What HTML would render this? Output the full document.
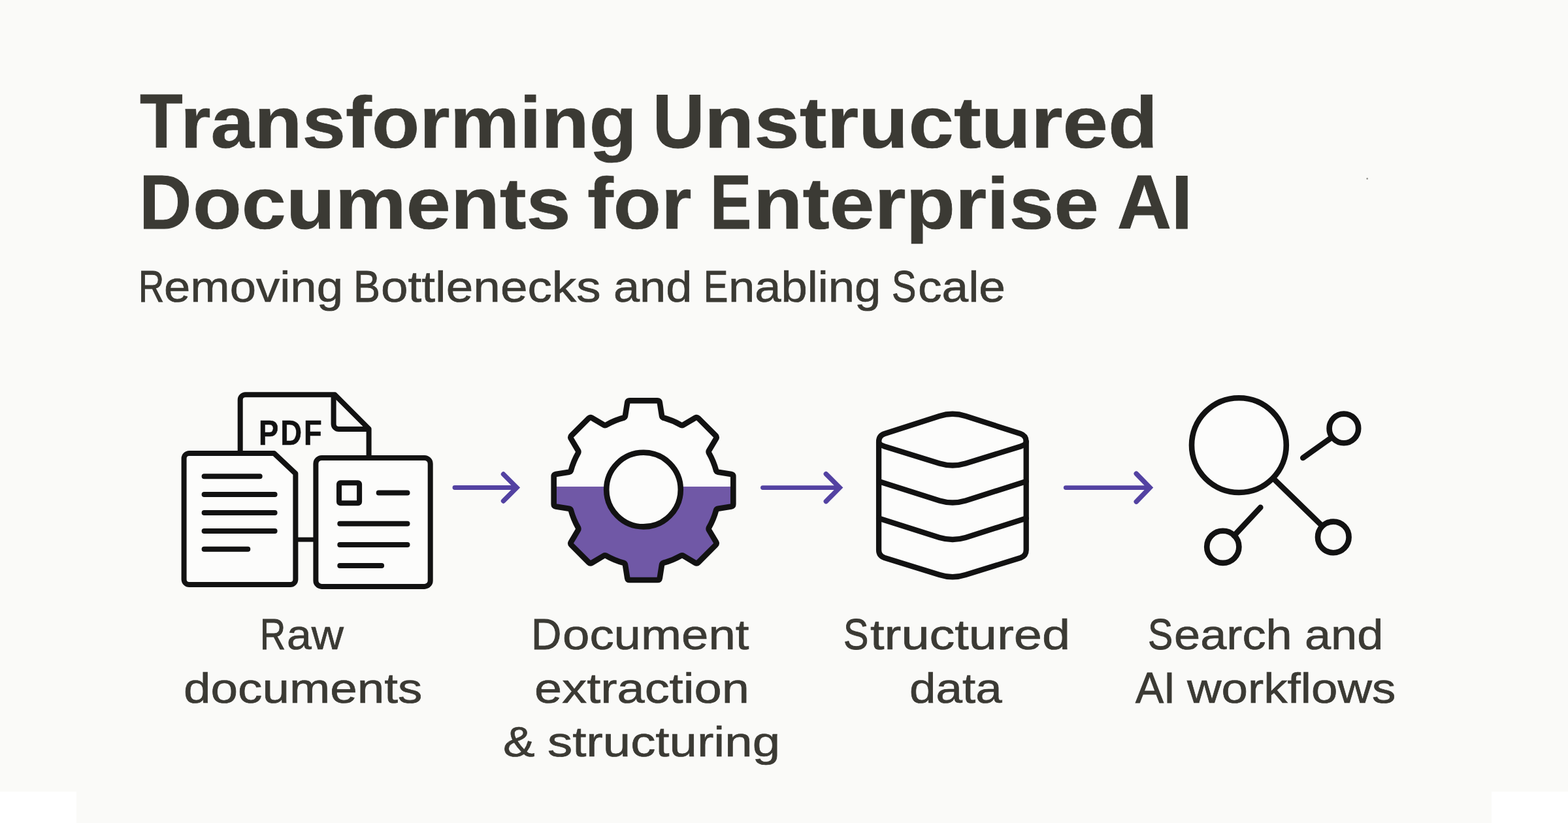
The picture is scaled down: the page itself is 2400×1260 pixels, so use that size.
<!DOCTYPE html>
<html lang="en">
<head>
<meta charset="utf-8">
<title>Transforming Unstructured Documents for Enterprise AI</title>
<style>
html,body{margin:0;padding:0;}
body{width:2400px;height:1260px;overflow:hidden;background:#fafaf8;position:relative;
  font-family:"Liberation Sans",Arial,Helvetica,sans-serif;color:#3b3a34;}
.art{position:absolute;left:0;top:0;display:block;}
.corner{position:absolute;bottom:0;width:117px;height:48px;background:#fff;}
.corner.l{left:0;} .corner.r{right:0;}
h1,p,.pdf{margin:0;padding:0;font-weight:400;font-size:0;line-height:0;}
.w{position:absolute;display:block;white-space:nowrap;line-height:1;transform-origin:0 0;}
.t{font-weight:700;font-size:111.5px;-webkit-text-stroke:0.7px #3b3a34;}
.t.caps{font-size:116.5px;-webkit-text-stroke-width:1px;}
.s{font-size:66.5px;-webkit-text-stroke:0.7px #3b3a34;}
.s.caps{font-size:68.5px;-webkit-text-stroke-width:1px;}
.l{font-size:65.5px;-webkit-text-stroke:0.7px #3b3a34;}
.l.caps{font-size:67.5px;-webkit-text-stroke-width:1px;}
.p{font-weight:700;font-size:53.5px;color:#121212;-webkit-text-stroke:0.6px #121212;letter-spacing:3.5px;}
</style>
</head>
<body>
<div class="corner l"></div><div class="corner r"></div>
<svg class="art" width="2400" height="1260" viewBox="0 0 2400 1260" aria-hidden="true">
<defs><clipPath id="half"><rect x="800" y="745" width="400" height="200"/></clipPath></defs>
<circle cx="2092.7" cy="273.5" r="1.3" fill="#8a8a86"/>
<g fill="none" stroke="#121212" stroke-width="8" stroke-linecap="round" stroke-linejoin="round">
  <path d="M367.7 692V612.3a8 8 0 0 1 8-8H512.5L564.6 656.5V698"/>
  <path d="M510.6 606V649a8 8 0 0 0 8 8H562"/>
  <path fill="#fcfcfb" d="M289.6 694H419.5L452.4 725V886.9a8 8 0 0 1-8 8H289.6a8 8 0 0 1-8-8V702a8 8 0 0 1 8-8Z"/>
  <path d="M312.6 729.2H397.7M312.6 757H420.6M312.6 785.1H420.6M312.6 813.1H420.6M312.6 840.7H379.3"/>
  <path stroke-width="7" stroke-linecap="butt" d="M456 826.1H480"/>
  <rect fill="#fcfcfb" x="483.4" y="700.9" width="175.3" height="197" rx="9"/>
  <rect x="519" y="739.2" width="31.1" height="31.1" rx="2"/>
  <path d="M579.7 754.6H623.5M520.3 801.8H623.5M520.3 833.9H623.5M520.3 866H584.1"/>
</g>
<g fill="none" stroke="#5342a2" stroke-width="7.4" stroke-linecap="round" stroke-linejoin="round">
  <path stroke-width="6.9" d="M696 746.5H789.5"/><path stroke-linejoin="miter" d="M770.5 726.0L790.9 746.5L770.5 767.0"/>
  <path stroke-width="6.9" d="M1167.5 746.6H1283.8"/><path stroke-linejoin="miter" d="M1264.3 725.6L1285.2 746.6L1264.3 767.6"/>
  <path stroke-width="6.9" d="M1631.3 746.6H1758.7"/><path stroke-linejoin="miter" d="M1739.2 725.1L1760.1 746.6L1739.2 768.1"/>
</g>
<path d="M954.9 639.5Q956.7 638.7 957.0 636.7L960.2 616.4Q960.7 613.4 963.7 613.4L1006.3 613.4Q1009.3 613.4 1009.8 616.4L1013.0 636.7Q1013.3 638.7 1015.1 639.5A115.5 115.5 0 0 1 1042.3 650.7Q1044.2 651.5 1045.9 650.5L1064.1 639.7Q1066.7 638.2 1068.8 640.3L1095.4 666.9Q1097.5 669.0 1096.0 671.6L1085.2 689.8Q1084.2 691.5 1085.0 693.4A115.5 115.5 0 0 1 1096.2 720.6Q1097.0 722.4 1099.0 722.7L1119.3 725.9Q1122.3 726.4 1122.3 729.4L1122.3 772.0Q1122.3 775.0 1119.3 775.5L1099.0 778.7Q1097.0 779.0 1096.2 780.8A115.5 115.5 0 0 1 1085.0 808.0Q1084.2 809.9 1085.2 811.6L1096.0 829.8Q1097.5 832.4 1095.4 834.5L1068.8 861.1Q1066.7 863.2 1064.1 861.7L1045.9 850.9Q1044.2 849.9 1042.3 850.7A115.5 115.5 0 0 1 1015.1 861.9Q1013.3 862.7 1013.0 864.7L1009.8 885.0Q1009.3 888.0 1006.3 888.0L963.7 888.0Q960.7 888.0 960.2 885.0L957.0 864.7Q956.7 862.7 954.9 861.9A115.5 115.5 0 0 1 927.7 850.7Q925.8 849.9 924.1 850.9L905.9 861.7Q903.3 863.2 901.2 861.1L874.6 834.5Q872.5 832.4 874.0 829.8L884.8 811.6Q885.8 809.9 885.0 808.0A115.5 115.5 0 0 1 873.8 780.8Q873.0 779.0 871.0 778.7L850.7 775.5Q847.7 775.0 847.7 772.0L847.7 729.4Q847.7 726.4 850.7 725.9L871.0 722.7Q873.0 722.4 873.8 720.6A115.5 115.5 0 0 1 885.0 693.4Q885.8 691.5 884.8 689.8L874.0 671.6Q872.5 669.0 874.6 666.9L901.2 640.3Q903.3 638.2 905.9 639.7L924.1 650.5Q925.8 651.5 927.7 650.7A115.5 115.5 0 0 1 954.9 639.5Z" fill="#fcfcfb"/>
<path d="M954.9 639.5Q956.7 638.7 957.0 636.7L960.2 616.4Q960.7 613.4 963.7 613.4L1006.3 613.4Q1009.3 613.4 1009.8 616.4L1013.0 636.7Q1013.3 638.7 1015.1 639.5A115.5 115.5 0 0 1 1042.3 650.7Q1044.2 651.5 1045.9 650.5L1064.1 639.7Q1066.7 638.2 1068.8 640.3L1095.4 666.9Q1097.5 669.0 1096.0 671.6L1085.2 689.8Q1084.2 691.5 1085.0 693.4A115.5 115.5 0 0 1 1096.2 720.6Q1097.0 722.4 1099.0 722.7L1119.3 725.9Q1122.3 726.4 1122.3 729.4L1122.3 772.0Q1122.3 775.0 1119.3 775.5L1099.0 778.7Q1097.0 779.0 1096.2 780.8A115.5 115.5 0 0 1 1085.0 808.0Q1084.2 809.9 1085.2 811.6L1096.0 829.8Q1097.5 832.4 1095.4 834.5L1068.8 861.1Q1066.7 863.2 1064.1 861.7L1045.9 850.9Q1044.2 849.9 1042.3 850.7A115.5 115.5 0 0 1 1015.1 861.9Q1013.3 862.7 1013.0 864.7L1009.8 885.0Q1009.3 888.0 1006.3 888.0L963.7 888.0Q960.7 888.0 960.2 885.0L957.0 864.7Q956.7 862.7 954.9 861.9A115.5 115.5 0 0 1 927.7 850.7Q925.8 849.9 924.1 850.9L905.9 861.7Q903.3 863.2 901.2 861.1L874.6 834.5Q872.5 832.4 874.0 829.8L884.8 811.6Q885.8 809.9 885.0 808.0A115.5 115.5 0 0 1 873.8 780.8Q873.0 779.0 871.0 778.7L850.7 775.5Q847.7 775.0 847.7 772.0L847.7 729.4Q847.7 726.4 850.7 725.9L871.0 722.7Q873.0 722.4 873.8 720.6A115.5 115.5 0 0 1 885.0 693.4Q885.8 691.5 884.8 689.8L874.0 671.6Q872.5 669.0 874.6 666.9L901.2 640.3Q903.3 638.2 905.9 639.7L924.1 650.5Q925.8 651.5 927.7 650.7A115.5 115.5 0 0 1 954.9 639.5Z" fill="#7058a6" clip-path="url(#half)"/>
<path d="M954.9 639.5Q956.7 638.7 957.0 636.7L960.2 616.4Q960.7 613.4 963.7 613.4L1006.3 613.4Q1009.3 613.4 1009.8 616.4L1013.0 636.7Q1013.3 638.7 1015.1 639.5A115.5 115.5 0 0 1 1042.3 650.7Q1044.2 651.5 1045.9 650.5L1064.1 639.7Q1066.7 638.2 1068.8 640.3L1095.4 666.9Q1097.5 669.0 1096.0 671.6L1085.2 689.8Q1084.2 691.5 1085.0 693.4A115.5 115.5 0 0 1 1096.2 720.6Q1097.0 722.4 1099.0 722.7L1119.3 725.9Q1122.3 726.4 1122.3 729.4L1122.3 772.0Q1122.3 775.0 1119.3 775.5L1099.0 778.7Q1097.0 779.0 1096.2 780.8A115.5 115.5 0 0 1 1085.0 808.0Q1084.2 809.9 1085.2 811.6L1096.0 829.8Q1097.5 832.4 1095.4 834.5L1068.8 861.1Q1066.7 863.2 1064.1 861.7L1045.9 850.9Q1044.2 849.9 1042.3 850.7A115.5 115.5 0 0 1 1015.1 861.9Q1013.3 862.7 1013.0 864.7L1009.8 885.0Q1009.3 888.0 1006.3 888.0L963.7 888.0Q960.7 888.0 960.2 885.0L957.0 864.7Q956.7 862.7 954.9 861.9A115.5 115.5 0 0 1 927.7 850.7Q925.8 849.9 924.1 850.9L905.9 861.7Q903.3 863.2 901.2 861.1L874.6 834.5Q872.5 832.4 874.0 829.8L884.8 811.6Q885.8 809.9 885.0 808.0A115.5 115.5 0 0 1 873.8 780.8Q873.0 779.0 871.0 778.7L850.7 775.5Q847.7 775.0 847.7 772.0L847.7 729.4Q847.7 726.4 850.7 725.9L871.0 722.7Q873.0 722.4 873.8 720.6A115.5 115.5 0 0 1 885.0 693.4Q885.8 691.5 884.8 689.8L874.0 671.6Q872.5 669.0 874.6 666.9L901.2 640.3Q903.3 638.2 905.9 639.7L924.1 650.5Q925.8 651.5 927.7 650.7A115.5 115.5 0 0 1 954.9 639.5Z" fill="none" stroke="#121212" stroke-width="8.6" stroke-linejoin="round"/>
<circle cx="985" cy="749.6" r="56.8" fill="#fcfcfb" stroke="#121212" stroke-width="8.6"/>
<g fill="none" stroke="#121212" stroke-width="8.3" stroke-linecap="round" stroke-linejoin="round">
  <path fill="#fcfcfb" d="M1345.1 676Q1345.1 667 1354 664L1438 637Q1458 630.5 1478 637L1562 664Q1570.7 667 1570.7 676V842Q1570.7 851 1562 854L1478 880Q1458 886.5 1438 880L1354 854Q1345.1 851 1345.1 842Z"/>
  <path d="M1345.1 676Q1345.1 680.5 1354 683.5L1438 709.5Q1458 715.5 1478 709.5L1562 683.5Q1570.7 680.5 1570.7 676"/>
  <path d="M1345.1 737L1438 766.5Q1458 772.5 1478 766.5L1570.7 737"/>
  <path d="M1345.1 793.5L1438 823Q1458 829 1478 823L1570.7 793.5"/>
</g>
<g fill="none" stroke="#121212" stroke-width="8.6" stroke-linecap="round">
  <circle cx="1896.4" cy="681.6" r="72.4" fill="#fcfcfb"/>
  <circle cx="2056.9" cy="655.9" r="22.3"/>
  <circle cx="2040.8" cy="822.4" r="23.8"/>
  <circle cx="1871.8" cy="837.3" r="24.6"/>
  <path d="M1950 733.5L2023.5 805"/>
  <path d="M1994.3 701L2038 670"/>
  <path d="M1929.3 776.9L1889 820"/>
</g>
</svg>
<h1 class="title"><span class="w t caps" style="left:213.72px;top:128px;transform:scaleX(0.9241)">T</span><span class="w t" style="left:276.15px;top:132px;transform:scaleX(1.0743)">ransforming</span> <span class="w t caps" style="left:999.36px;top:128px;transform:scaleX(0.9436)">U</span><span class="w t" style="left:1077.83px;top:132px;transform:scaleX(1.1208)">nstructured</span>
<span class="w t caps" style="left:212.57px;top:252px;transform:scaleX(0.9551)">D</span><span class="w t" style="left:294.96px;top:256px;transform:scaleX(1.0988)">ocuments</span> <span class="w t" style="left:899.38px;top:256px;transform:scaleX(1.0737)">for</span> <span class="w t caps" style="left:1087.11px;top:252px;transform:scaleX(0.8127)">E</span><span class="w t" style="left:1153.41px;top:256px;transform:scaleX(1.1087)">nterprise</span> <span class="w t caps" style="left:1710.15px;top:252px;transform:scaleX(0.9865)">AI</span></h1>
<p class="sub"><span class="w s caps" style="left:211.95px;top:405px;transform:scaleX(0.7948)">R</span><span class="w s" style="left:251.35px;top:406px;transform:scaleX(1.0900)">emoving</span> <span class="w s caps" style="left:541.04px;top:405px;transform:scaleX(0.8963)">B</span><span class="w s" style="left:582.92px;top:406px;transform:scaleX(1.1242)">ottlenecks</span> <span class="w s" style="left:938.56px;top:406px;transform:scaleX(1.0835)">and</span> <span class="w s caps" style="left:1076.53px;top:405px;transform:scaleX(0.8184)">E</span><span class="w s" style="left:1115.21px;top:406px;transform:scaleX(1.0880)">nabling</span> <span class="w s caps" style="left:1365.47px;top:405px;transform:scaleX(0.8169)">S</span><span class="w s" style="left:1404.64px;top:406px;transform:scaleX(1.0982)">cale</span></p>
<div class="pdf"><span class="w p" style="left:395.76px;top:636px;transform:scaleX(0.8485)">PDF</span></div>
<section class="labels">
<p class="lbl"><span class="w l caps" style="left:398.48px;top:937px;transform:scaleX(0.8038)">R</span><span class="w l" style="left:438.77px;top:939px;transform:scaleX(1.0397)">aw</span> <span class="w l" style="left:280.60px;top:1021px;transform:scaleX(1.1402)">documents</span></p>
<p class="lbl"><span class="w l caps" style="left:813.24px;top:937px;transform:scaleX(0.9512)">D</span><span class="w l" style="left:861.10px;top:939px;transform:scaleX(1.1363)">ocument</span> <span class="w l" style="left:817.76px;top:1021px;transform:scaleX(1.1583)">extraction</span> <span class="w l" style="left:770.14px;top:1103px;transform:scaleX(1.1162)">&amp;</span> <span class="w l" style="left:838.49px;top:1103px;transform:scaleX(1.1646)">structuring</span></p>
<p class="lbl"><span class="w l caps" style="left:1291.36px;top:937px;transform:scaleX(0.8537)">S</span><span class="w l" style="left:1332.26px;top:939px;transform:scaleX(1.1842)">tructured</span> <span class="w l" style="left:1392.42px;top:1021px;transform:scaleX(1.1115)">data</span></p>
<p class="lbl"><span class="w l caps" style="left:1757.13px;top:937px;transform:scaleX(0.8474)">S</span><span class="w l" style="left:1797.39px;top:939px;transform:scaleX(1.1027)">earch</span> <span class="w l" style="left:1996.62px;top:939px;transform:scaleX(1.1013)">and</span> <span class="w l caps" style="left:1738.25px;top:1019px;transform:scaleX(0.9566)">AI</span> <span class="w l" style="left:1817.34px;top:1021px;transform:scaleX(1.1108)">workflows</span></p>
</section>
</body>
</html>
